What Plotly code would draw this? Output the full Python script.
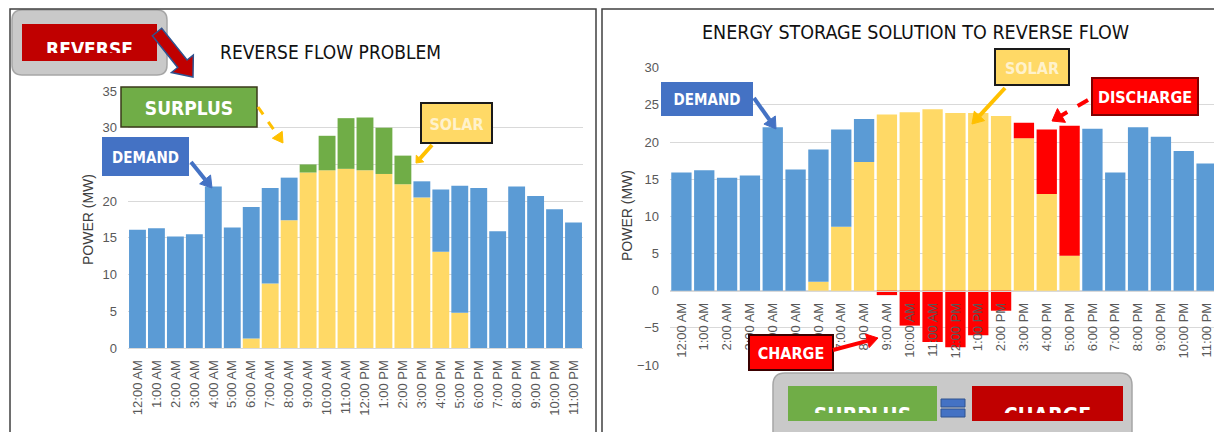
import numpy as np
import plotly.graph_objects as go

W, H = 1222, 432
OFF = 8  # the page body margin shifts the figure by 8 px

hours = ["12:00 AM", "1:00 AM", "2:00 AM", "3:00 AM", "4:00 AM", "5:00 AM",
         "6:00 AM", "7:00 AM", "8:00 AM", "9:00 AM", "10:00 AM", "11:00 AM",
         "12:00 PM", "1:00 PM", "2:00 PM", "3:00 PM", "4:00 PM", "5:00 PM",
         "6:00 PM", "7:00 PM", "8:00 PM", "9:00 PM", "10:00 PM", "11:00 PM"]

# left panel - reverse flow problem (MW)
solar_left = [0, 0, 0, 0, 0, 0, 1.3, 8.8, 17.4, 23.9, 24.2, 24.4,
              24.2, 23.7, 22.3, 20.5, 13.1, 4.8, 0, 0, 0, 0, 0, 0]
grid_left = [16.1, 16.3, 15.2, 15.5, 22.0, 16.4, 17.9, 13.0, 5.8, 0, 0, 0,
             0, 0, 0, 2.2, 8.5, 17.3, 21.8, 15.9, 22.0, 20.7, 18.9, 17.1]
surplus_left = [0, 0, 0, 0, 0, 0, 0, 0, 0, 1.1, 4.7, 6.9,
                7.2, 6.3, 3.9, 0, 0, 0, 0, 0, 0, 0, 0, 0]

# right panel - with energy storage (MW)
solar_right = [0, 0, 0, 0, 0, 0, 1.2, 8.6, 17.3, 23.7, 24.0, 24.4,
               23.9, 23.9, 23.5, 20.5, 13.0, 4.7, 0, 0, 0, 0, 0, 0]
grid_right = [15.9, 16.2, 15.2, 15.5, 22.0, 16.3, 17.8, 13.1, 5.8, 0, 0, 0,
              0, 0, 0, 0, 0, 0, 21.8, 15.9, 22.0, 20.7, 18.8, 17.1]
discharge_right = [0, 0, 0, 0, 0, 0, 0, 0, 0, 0, 0, 0,
                   0, 0, 0, 2.1, 8.7, 17.5, 0, 0, 0, 0, 0, 0]
charge_right = [0, 0, 0, 0, 0, 0, 0, 0, 0, -0.6, -4.7, -6.9,
                -7.6, -6.0, -2.7, 0, 0, 0, 0, 0, 0, 0, 0, 0]

BLUE = "#5b9bd5"
YELLOW = "#ffd966"
GREEN = "#70ad47"
RED = "#ff0000"
DARKRED = "#c00000"
NARROW = "Liberation Sans Narrow, DejaVu Sans Condensed, Arial Narrow, sans-serif"
TICK = dict(family="Liberation Sans, Arial, sans-serif", size=13, color="#595959")


# page pixel -> paper coords
def fx(x):
    return min(max((x - OFF) / W, 0), 1)


def fy(y):
    return min(max(1 - (y - OFF) / H, 0), 1)


fig = go.Figure()
for name, vals, col in [("Solar", solar_left, YELLOW), ("Demand", grid_left, BLUE),
                        ("Surplus", surplus_left, GREEN)]:
    fig.add_trace(go.Bar(x=hours, y=vals, name=name, marker=dict(color=col, line_width=0),
                         xaxis="x", yaxis="y"))
for name, vals, col in [("Solar", solar_right, YELLOW), ("Demand", grid_right, BLUE),
                        ("Discharge", discharge_right, RED), ("Charge", charge_right, RED)]:
    fig.add_trace(go.Bar(x=hours, y=vals, name=name, marker=dict(color=col, line_width=0),
                         xaxis="x2", yaxis="y2"))

shapes = []


def box(x0, y0, x1, y1, fill, line=None, lw=0, text=None, size=18, tcolor="white", layer="above"):
    s = dict(type="rect", xref="paper", yref="paper", x0=fx(x0), x1=fx(x1), y0=fy(y1), y1=fy(y0),
             fillcolor=fill, line=dict(color=line or "rgba(0,0,0,0)", width=lw), layer=layer)
    if text:
        s["label"] = dict(text="<b>%s</b>" % text, textposition="middle center", padding=0,
                          font=dict(family=NARROW, size=size, color=tcolor))
    shapes.append(s)


def pt(x, y):
    return "%.5f,%.5f" % (fx(x), fy(y))


def rounded(x0, y0, x1, y1, r, fill, line):
    p = ("M%s L%s Q%s %s L%s Q%s %s L%s Q%s %s L%s Q%s %s Z" % (
        pt(x0 + r, y0), pt(x1 - r, y0), pt(x1, y0), pt(x1, y0 + r), pt(x1, y1 - r),
        pt(x1, y1), pt(x1 - r, y1), pt(x0 + r, y1), pt(x0, y1), pt(x0, y1 - r),
        pt(x0, y0 + r), pt(x0, y0), pt(x0 + r, y0)))
    shapes.append(dict(type="path", xref="paper", yref="paper", path=p, fillcolor=fill,
                       line=dict(color=line, width=1.5), layer="below"))


def arrow(x0, y0, x1, y1, color, width=3, dash="solid", head=10, hw=6):
    u = np.array([x1 - x0, y1 - y0], float)
    u /= np.hypot(*u)
    n = np.array([-u[1], u[0]])
    base = np.array([x1, y1]) - u * head
    shapes.append(dict(type="line", xref="paper", yref="paper", x0=fx(x0), y0=fy(y0),
                       x1=fx(base[0]), y1=fy(base[1]), line=dict(color=color, width=width, dash=dash),
                       layer="above"))
    a, b = base + n * hw, base - n * hw
    shapes.append(dict(type="path", xref="paper", yref="paper", layer="above",
                       path="M%s L%s L%s Z" % (pt(x1, y1), pt(*a), pt(*b)),
                       fillcolor=color, line=dict(color=color, width=1)))


def frame(x0, y0, x1, y1):
    shapes.append(dict(type="path", xref="paper", yref="paper", layer="above",
                       path="M%s L%s L%s L%s" % (pt(x0, y1), pt(x0, y0), pt(x1, y0), pt(x1, y1)),
                       line=dict(color="#404040", width=1.5)))


# clipped banner text: a text trace in a tiny subplot that cuts the lower half off
clip_axes = {}


def clipped_text(k, text, x0, y0, x1, y1, yc, size):
    xa, ya = "x%d" % k, "y%d" % k
    clip_axes["xaxis%d" % k] = dict(domain=[fx(x0), fx(x1)], range=[0, 1], visible=False,
                                    fixedrange=True, anchor=ya)
    clip_axes["yaxis%d" % k] = dict(domain=[fy(y1), fy(y0)], range=[0, 1], visible=False,
                                    fixedrange=True, anchor=xa)
    fig.add_trace(go.Scatter(x=[0.5], y=[(y1 - yc) / (y1 - y0)], mode="text",
                             text=["<b>%s</b>" % text], textposition="middle center",
                             textfont=dict(family=NARROW, size=size, color="white"),
                             cliponaxis=True, hoverinfo="skip", xaxis=xa, yaxis=ya))


# panel frames
frame(10, 9, 596, 440)
frame(602, 9, 1240, 440)

# left callouts
rounded(12, 10, 167, 75, 10, "#c9c9c9", "#a6a6a6")
box(22, 24, 157, 61, DARKRED, layer="below")
clipped_text(3, "REVERSE", 22, 24, 157, 53, 51.5, 19)
# big red arrow
tail, tip = np.array([157.0, 32.0]), np.array([193.0, 77.0])
u = (tip - tail) / np.hypot(*(tip - tail))
n = np.array([-u[1], u[0]])
hb = tip - u * 17
poly = [tail + n * 6, hb + n * 6, hb + n * 14, tip, hb - n * 14, hb - n * 6, tail - n * 6]
shapes.append(dict(type="path", xref="paper", yref="paper", layer="above",
                   path="M" + " L".join(pt(*p) for p in poly) + " Z",
                   fillcolor=DARKRED, line=dict(color="#2f528f", width=1.5)))

box(121, 87, 257, 127, GREEN, "#3a3a1a", 1.5, "SURPLUS", 19)
arrow(258, 107, 283, 143, "#ffc000", 3, "dash", 10, 6)
box(102, 137, 189, 176, "#4472c4", text="DEMAND", size=15)
arrow(191, 162, 212, 188, "#4472c4", 4, "solid", 11, 7)
box(421, 103, 492, 143, YELLOW, "#1a1a1a", 2, "SOLAR", 16, "#fff2cc")
arrow(432, 145, 416, 163, "#ffc000", 4, "solid", 6, 5)

# right callouts
box(661, 82, 753, 116, "#4472c4", text="DEMAND", size=15)
arrow(754, 98, 776, 129, "#4472c4", 4, "solid", 11, 7)
box(995, 49, 1069, 85, YELLOW, "#1a1a1a", 2, "SOLAR", 16, "#fff2cc")
arrow(1005, 88, 972, 124, "#ffc000", 4, "solid", 11, 7)
box(1092, 78, 1198, 115, RED, "#7f0000", 2, "DISCHARGE", 16)
arrow(1088, 100, 1052, 121, RED, 4, "dash", 11, 8)
box(749, 335, 833, 370, RED, "#3a0000", 2, "CHARGE", 16)
arrow(833, 350, 878, 338, RED, 4, "solid", 11, 7)

# SURPLUS = CHARGE
rounded(773, 373, 1132, 445, 12, "#c9c9c9", "#a6a6a6")
box(788, 386, 937, 421, GREEN, layer="below")
clipped_text(4, "SURPLUS", 788, 386, 937, 413, 418, 21)
box(972, 386, 1123, 421, DARKRED, layer="below")
clipped_text(5, "CHARGE", 972, 386, 1123, 413, 418, 21)
box(941, 399, 965, 407, "#4472c4", "#2f528f", 1, layer="below")
box(941, 409, 965, 417, "#4472c4", "#2f528f", 1, layer="below")

annotations = [
    dict(text="REVERSE FLOW PROBLEM", x=fx(330), y=fy(52), font=dict(family=NARROW, size=19, color="#111111")),
    dict(text="ENERGY STORAGE SOLUTION TO REVERSE FLOW", x=fx(915), y=fy(33),
         font=dict(family=NARROW, size=19.5, color="#111111")),
    dict(text="POWER (MW)", x=fx(88), y=fy(220), textangle=-90,
         font=dict(family="Liberation Sans, Arial, sans-serif", size=14, color="#404040")),
    dict(text="POWER (MW)", x=fx(627), y=fy(216), textangle=-90,
         font=dict(family="Liberation Sans, Arial, sans-serif", size=14, color="#404040")),
]
for a in annotations:
    a.update(xref="paper", yref="paper", showarrow=False, xanchor="center", yanchor="middle")

xcommon = dict(type="category", tickangle=-90, tickfont=TICK, showgrid=False, showline=True,
               linecolor="#d9d9d9", linewidth=1, ticks="", ticklabelstandoff=6, fixedrange=True,
               automargin=False)
ycommon = dict(dtick=5, tickfont=TICK, gridcolor="#d9d9d9", gridwidth=1, showline=False,
               zeroline=False, ticks="", ticklabelstandoff=10, fixedrange=True, automargin=False)

fig.update_layout(
    width=W, height=H, margin=dict(l=0, r=0, t=0, b=0, pad=0), autosize=False,
    paper_bgcolor="white", plot_bgcolor="rgba(0,0,0,0)",
    barmode="relative", bargap=0.11, showlegend=False,
    xaxis=dict(domain=[fx(128), fx(583)], anchor="y", **xcommon),
    yaxis=dict(domain=[fy(348), fy(91)], range=[0, 35], anchor="x", **ycommon),
    xaxis2=dict(domain=[fx(670), fx(1218)], anchor="free", position=fy(290.6), **xcommon),
    yaxis2=dict(domain=[fy(365), fy(67.7)], range=[-10, 30], anchor="x2", **ycommon),
    shapes=shapes, annotations=annotations, **clip_axes,
)

fig.write_html("out.html")
